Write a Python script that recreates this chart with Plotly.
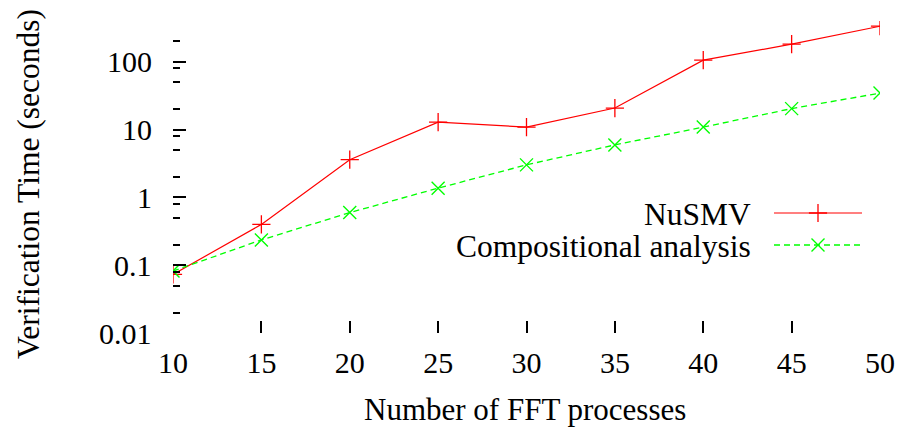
import numpy as np
import plotly.graph_objects as go

# ---- data ----
processes = [10, 15, 20, 25, 30, 35, 40, 45, 50]
nusmv = [0.073, 0.40, 3.6, 12.9, 10.9, 20.8, 106, 182, 335]
compositional = [0.082, 0.236, 0.597, 1.37, 3.02, 5.95, 10.9, 20.4, 34.6]
x_ticks = [10, 15, 20, 25, 30, 35, 40, 45, 50]
y_major = [0.01, 0.1, 1, 10, 100]
y_major_text = ["0.01", "0.1", "1", "10", "100"]
y_minor = [m * d for d in [0.01, 0.1, 1, 10, 100] for m in (2, 5, 8)]

W, H = 908, 435
L, R, T, B = 173, 28, 21, 102
FONT = "Liberation Serif"
RED = "#ff0000"
GREEN = "#00ff00"

def px(x):
    return (x - L) / (W - L - R)

def py(y):
    return (H - B - y) / (H - T - B)

fig = go.Figure()
fig.add_trace(go.Scatter(x=processes, y=nusmv, mode="lines+markers",
                         line=dict(color=RED, width=1.2),
                         marker=dict(symbol="cross-thin", size=13,
                                     line=dict(color=RED, width=1.3)),
                         showlegend=False))
fig.add_trace(go.Scatter(x=processes, y=compositional, mode="lines+markers",
                         line=dict(color=GREEN, width=1.3, dash="6px,4px"),
                         marker=dict(symbol="x-thin", size=13,
                                     line=dict(color=GREEN, width=1.4)),
                         showlegend=False))

# legend samples (gnuplot style: text left, sample right)
leg_x = [px(774), px(818), px(862)]
fig.add_trace(go.Scatter(x=leg_x, y=[py(213)] * 3, xaxis="x2", yaxis="y2",
                         mode="lines", line=dict(color=RED, width=1.2),
                         showlegend=False, hoverinfo="skip"))
fig.add_trace(go.Scatter(x=[leg_x[1]], y=[py(213)], xaxis="x2", yaxis="y2",
                         mode="markers",
                         marker=dict(symbol="cross-thin", size=13,
                                     line=dict(color=RED, width=1.3)),
                         showlegend=False, hoverinfo="skip"))
fig.add_trace(go.Scatter(x=leg_x, y=[py(245)] * 3, xaxis="x2", yaxis="y2",
                         mode="lines", line=dict(color=GREEN, width=1.3, dash="6px,4px"),
                         showlegend=False, hoverinfo="skip"))
fig.add_trace(go.Scatter(x=[leg_x[1]], y=[py(245)], xaxis="x2", yaxis="y2",
                         mode="markers",
                         marker=dict(symbol="x-thin", size=13,
                                     line=dict(color=GREEN, width=1.4)),
                         showlegend=False, hoverinfo="skip"))

TITLE_SIZE = 31.5

annotations = [
    dict(text="NuSMV", x=px(753), y=py(214), xref="paper", yref="paper",
         xanchor="right", yanchor="middle", showarrow=False,
         font=dict(family=FONT, size=TITLE_SIZE)),
    dict(text="Compositional analysis", x=px(753), y=py(246), xref="paper", yref="paper",
         xanchor="right", yanchor="middle", showarrow=False,
         font=dict(family=FONT, size=TITLE_SIZE)),
    dict(text="Number of FFT processes", x=px(525), y=py(409), xref="paper", yref="paper",
         xanchor="center", yanchor="middle", showarrow=False,
         font=dict(family=FONT, size=31)),
    dict(text="Verification Time (seconds)", x=px(29), y=py(184), xref="paper", yref="paper",
         xanchor="center", yanchor="middle", showarrow=False, textangle=-90,
         font=dict(family=FONT, size=TITLE_SIZE)),
]
# y tick labels (gnuplot-like offset from the inward ticks)
for v, t in zip(y_major, y_major_text):
    annotations.append(dict(text=t, x=px(154), y=np.log10(v), xref="paper", yref="y",
                            xanchor="right", yanchor="middle", showarrow=False,
                            font=dict(family=FONT, size=30)))

fig.update_layout(
    width=W, height=H,
    margin=dict(l=L, r=R, t=T, b=B),
    paper_bgcolor="white", plot_bgcolor="white",
    font=dict(family=FONT, size=30, color="black"),
    xaxis=dict(range=[10, 50], tickmode="array", tickvals=x_ticks,
               ticks="inside", ticklen=12, tickwidth=1.6, tickcolor="black",
               showline=False, showgrid=False, zeroline=False,
               ticklabelstandoff=9,
               tickfont=dict(family=FONT, size=30)),
    yaxis=dict(type="log", range=[-2, np.log10(400)], tickmode="array",
               tickvals=y_major, ticktext=y_major_text, showticklabels=False,
               ticks="inside", ticklen=13, tickwidth=1.6, tickcolor="black",
               showline=False, showgrid=False, zeroline=False,
               minor=dict(tickmode="array", tickvals=y_minor, ticks="inside",
                          ticklen=7, tickwidth=1.6, tickcolor="black", showgrid=False)),
    xaxis2=dict(overlaying="x", range=[0, 1], visible=False),
    yaxis2=dict(overlaying="y", range=[0, 1], visible=False),
    annotations=annotations,
)

fig.write_html("out.html", config={"displayModeBar": False},
               post_script="document.body.style.margin='0';document.body.style.overflow='hidden';")
